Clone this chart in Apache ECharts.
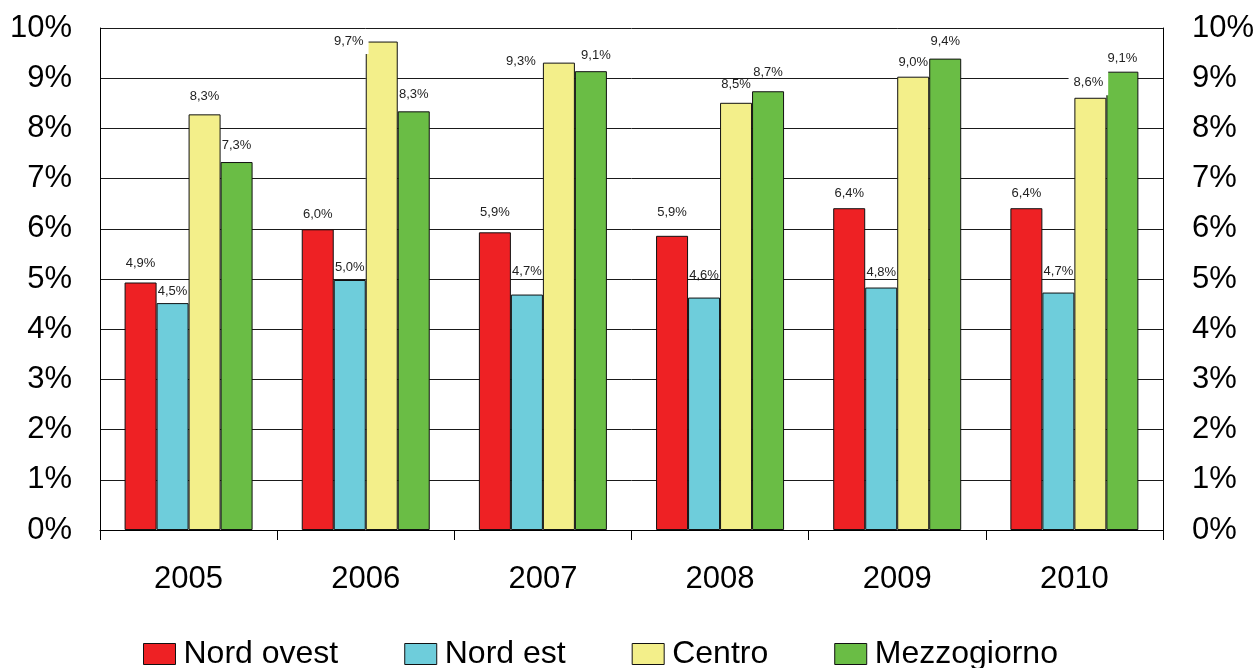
<!DOCTYPE html>
<html>
<head>
<meta charset="utf-8">
<script src="https://cdn.jsdelivr.net/npm/echarts@6/dist/echarts.min.js"></script>
<style>
html,body{margin:0;padding:0;background:#fff;}
#chart{width:1257px;height:668px;}
</style>
</head>
<body>
<div id="chart"></div>
<script>
const years = ['2005', '2006', '2007', '2008', '2009', '2010'];
const seriesNames = ['Nord ovest', 'Nord est', 'Centro', 'Mezzogiorno'];
const nordOvest = [4.93, 5.99, 5.93, 5.86, 6.41, 6.41];
const nordEst = [4.52, 4.98, 4.69, 4.63, 4.83, 4.73];
const centro = [8.28, 9.73, 9.31, 8.51, 9.03, 8.61];
const mezzogiorno = [7.33, 8.34, 9.14, 8.74, 9.39, 9.13];
const yTicks = [0, 1, 2, 3, 4, 5, 6, 7, 8, 9, 10];

// label placement (pixels): lift above bar top, horizontal shift, white box
const labelLift = [
  [19, 15, 20, 23, 15, 15],
  [12, 13, 23, 22, 15, 21],
  [18, 0, 1, 18, 14, 15],
  [17, 17, 16, 19, 17, 13]
];
const labelShift = [
  [0, 0, 0, 0, 0, 0],
  [0, 0, 0, 0, 0, 0],
  [0, -33, -38, 0, 0, -2],
  [0, 0, 5, 0, 0, 0]
];
const labelBoxed = [
  [0, 0, 0, 0, 0, 0],
  [0, 0, 0, 0, 0, 0],
  [0, 1, 1, 0, 0, 1],
  [0, 0, 0, 0, 0, 0]
];
const colors = ['#EE2124', '#6ECDDB', '#F3EF8A', '#6ABD45'];
const values = [nordOvest, nordEst, centro, mezzogiorno];
const FONT = "'Liberation Sans', Arial, sans-serif";

function fmt(v) { return v.toFixed(1).replace('.', ',') + '%'; }

const series = values.map((arr, s) => ({
  name: seriesNames[s],
  type: 'bar',
  barWidth: 32,
  barGap: '0%',
  itemStyle: { color: colors[s], borderColor: '#111', borderWidth: 1 },
  label: {
    show: true,
    position: 'top',
    distance: 0,
    fontFamily: FONT,
    fontSize: 13,
    color: '#222',
    formatter: p => fmt(p.value)
  },
  data: arr.map((v, i) => {
    const boxed = labelBoxed[s][i];
    const pv = boxed ? 6 : 2;
    const ph = boxed ? 5 : 2;
    return {
      value: v,
      label: {
        padding: [pv, ph],
        backgroundColor: boxed ? '#fff' : 'transparent',
        offset: [labelShift[s][i], -(labelLift[s][i] - 6.5 - pv)]
      }
    };
  })
}));

const chart = echarts.init(document.getElementById('chart'), null, { renderer: 'canvas' });
chart.setOption({
  backgroundColor: '#fff',
  animation: false,
  textStyle: { fontFamily: FONT },
  grid: { left: 100, right: 94, top: 28, bottom: 138, containLabel: false },
  legend: {
    data: seriesNames,
    left: 143,
    top: 638,
    padding: 0,
    icon: 'rect',
    itemWidth: 32,
    itemHeight: 21,
    itemGap: 66,
    itemStyle: { borderColor: '#111', borderWidth: 1 },
    textStyle: { fontFamily: FONT, fontSize: 32, color: '#000', padding: [0, 0, 0, 3] }
  },
  xAxis: {
    type: 'category',
    data: years,
    axisLine: { show: true, lineStyle: { color: '#000', width: 1 } },
    axisTick: { show: true, length: 10, alignWithLabel: false, lineStyle: { color: '#000' } },
    axisLabel: { fontFamily: FONT, fontSize: 31, color: '#000', margin: 34 },
    splitLine: { show: false }
  },
  yAxis: [
    {
      type: 'value',
      min: yTicks[0],
      max: yTicks[yTicks.length - 1],
      interval: 1,
      position: 'left',
      axisLine: { show: true, lineStyle: { color: '#000', width: 1 } },
      axisTick: { show: false },
      axisLabel: { fontFamily: FONT, fontSize: 31, color: '#000', margin: 28, formatter: '{value}%' },
      splitLine: { show: true, lineStyle: { color: '#1a1a1a', width: 1 } }
    },
    {
      type: 'value',
      min: yTicks[0],
      max: yTicks[yTicks.length - 1],
      interval: 1,
      position: 'right',
      axisLine: { show: true, lineStyle: { color: '#000', width: 1 } },
      axisTick: { show: false },
      axisLabel: { fontFamily: FONT, fontSize: 31, color: '#000', margin: 29, formatter: '{value}%' },
      splitLine: { show: false }
    }
  ],
  series: series
});
</script>
</body>
</html>
